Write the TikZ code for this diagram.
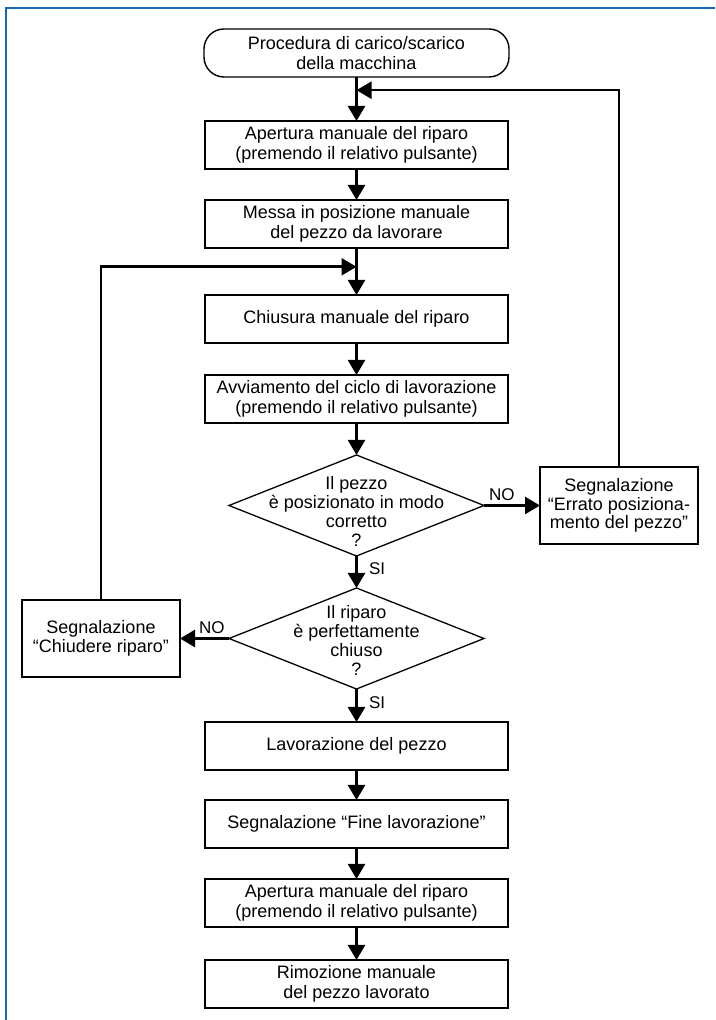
\documentclass[tikz,border=0pt]{standalone}
\usepackage{fontspec}
\setmainfont{Liberation Sans}
\usepackage{tikz}
\usetikzlibrary{shapes,arrows.meta,positioning,calc}
\usepackage{xcolor}
\definecolor{frameblue}{RGB}{20,104,180}

\begin{document}
\begin{tikzpicture}[x=1pt, y=1pt, font=\fontsize{18}{20}\selectfont]
    \tikzstyle{box} = [rectangle, draw, line width=1.8pt, minimum width=303pt, minimum height=48pt, align=center, inner sep=0pt, outer sep=0pt]
    \tikzstyle{term} = [box, line width=1.4pt, minimum width=305pt, rounded corners=20pt]
    \tikzstyle{decision} = [diamond, draw, line width=1.3pt, minimum width=255pt, minimum height=101pt, inner sep=0pt, outer sep=0pt]
    \tikzstyle{side} = [rectangle, draw, line width=1.4pt, minimum width=158pt, minimum height=77pt, align=center, inner sep=0pt, outer sep=0pt, font=\fontsize{18}{18.5}\selectfont]
    \tikzstyle{question} = [align=center, font=\fontsize{18}{19}\selectfont]
    \tikzstyle{answer} = [font=\fontsize{17}{19}\selectfont]
    \tikzstyle{arrow} = [-{Triangle[width=17pt,length=15pt]}, line width=2.6pt]

    \useasboundingbox (0,0) rectangle (715,1020);
    \draw[frameblue, line width=2.5pt] (6,0) -- (6,1012) -- (715,1012);

    \node[term] (start) at (356.5,967) {Procedura di carico/scarico\\della macchina};
    \node[box, below=44pt of start] (open1) {Apertura manuale del riparo\\(premendo il relativo pulsante)};
    \node[box, below=31pt of open1] (place) {Messa in posizione manuale\\del pezzo da lavorare};
    \node[box, below=47pt of place] (close) {Chiusura manuale del riparo};
    \node[box, below=32pt of close] (cycle) {Avviamento del ciclo di lavorazione\\(premendo il relativo pulsante)};
    \node[decision, below=32pt of cycle] (chkpos) {};
    \node[decision, below=32pt of chkpos] (chkguard) {};
    \node[box, below=33pt of chkguard] (work) {Lavorazione del pezzo};
    \node[box, below=30pt of work] (endsig) {Segnalazione “Fine lavorazione”};
    \node[box, below=31pt of endsig] (open2) {Apertura manuale del riparo\\(premendo il relativo pulsante)};
    \node[box, below=33pt of open2] (remove) {Rimozione manuale\\del pezzo lavorato};

    % text of the two checks
    \node[question, yshift=-6pt] (chkpostxt) at (chkpos) {Il pezzo\\è posizionato in modo\\corretto\\?};
    \node[question, yshift=-2pt] (chkguardtxt) at (chkguard) {Il riparo\\è perfettamente\\chiuso\\?};

    \node[side, right=56pt of chkpos] (errpos) {Segnalazione\\“Errato posiziona-\\mento del pezzo”};
    \node[side, left=49pt of chkguard] (errguard) {Segnalazione\\“Chiudere riparo”};

    \coordinate (back1) at ($(start.south)!0.3!(open1.north)$);
    \coordinate (back2) at ($(place.south)!0.4!(close.north)$);

    \draw[arrow] (start) -- (open1);
    \draw[arrow] (open1) -- (place);
    \draw[arrow] (place) -- (close);
    \draw[arrow] (close) -- (cycle);
    \draw[arrow] (cycle) -- (chkpos);
    \draw[arrow] (chkpos) -- node[answer, right, pos=0.4, xshift=8pt] {SI} (chkguard);
    \draw[arrow] (chkpos) -- node[answer, above, pos=0.32] {NO} (errpos);
    \draw[arrow] (chkguard) -- node[answer, above, pos=0.35] {NO} (errguard);
    \draw[arrow] (chkguard) -- node[answer, right, pos=0.4, xshift=8pt] {SI} (work);
    \draw[arrow] (work) -- (endsig);
    \draw[arrow] (endsig) -- (open2);
    \draw[arrow] (open2) -- (remove);

    % loops back to the main line
    \draw[arrow] (errpos.north) |- (back1);
    \draw[arrow] (errguard.north) |- (back2);
\end{tikzpicture}
\end{document}
